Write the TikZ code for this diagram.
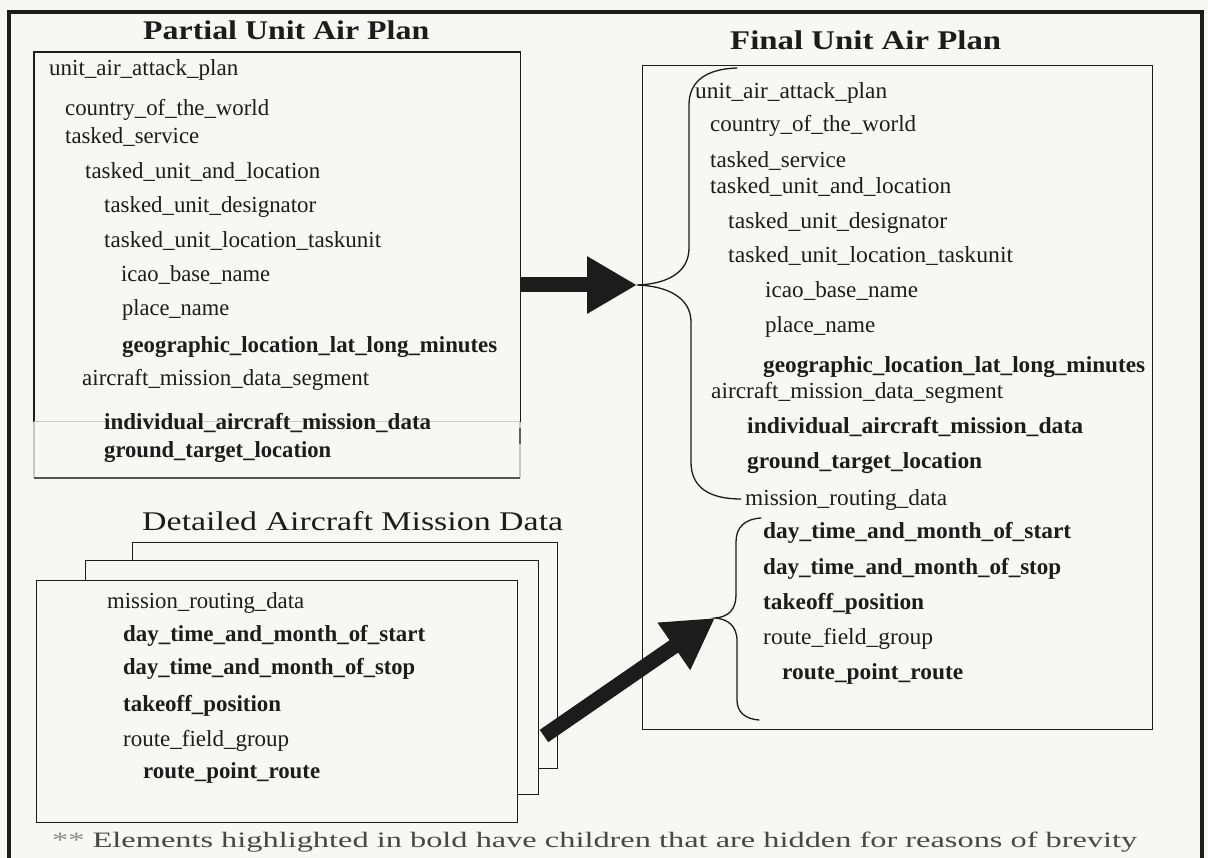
\documentclass[tikz,border=0pt]{standalone}
\usepackage{fontspec}
\setmainfont{Liberation Serif}
\usepackage{graphicx}
\usetikzlibrary{arrows.meta}
\definecolor{paper}{RGB}{247,247,243}
\definecolor{ink}{RGB}{28,28,28}
% set a text to a given width, keeping its height
\newcommand\fitw[2]{\resizebox{#1pt}{\height}{#2}}

\begin{document}
\begin{tikzpicture}[x=1pt,y=-1pt,
  item/.style={anchor=base west, inner sep=0pt, text=ink, font=\fontsize{23}{25}\selectfont},
  bitem/.style={item, font=\fontsize{23}{25}\selectfont\bfseries},
  heading/.style={anchor=base west, inner sep=0pt, text=ink, font=\fontsize{27}{30}\selectfont\bfseries},
  subheading/.style={heading, font=\fontsize{27}{30}\selectfont},
  panel/.style={draw=ink, line width=1.4pt, fill=paper, anchor=north west, inner sep=0pt},
  bigarrow/.style={draw=ink, line width=15pt, -{Triangle[length=50pt,width=54pt]}},
  brace/.style={draw=ink, line width=1.3pt, line cap=round}]

\useasboundingbox[fill=paper] (0,0) rectangle (1208,858);

% outer frame (runs off the bottom of the page)
\draw[ink, line width=3.5pt] (9,864) -- (9,12) -- (1202,12) -- (1202,864);

% ---------- Partial Unit Air Plan ----------
\node[heading] (ttlP) at (143,40) {\fitw{286}{Partial Unit Air Plan}};
\node[anchor=north west, inner sep=0pt, minimum width=486pt, minimum height=426pt] (pbox) at (34,52) {};
\draw[ink, line width=1.4pt] (pbox.south west) ++(0,-56) |- (pbox.north east) -- ++(0,370);
\draw[gray!40, line width=1pt] (34,422) -- (520,422);
\draw[gray!45, line width=1.2pt] (34,422) -- (34,478) (520,422) -- (520,478);
\draw[ink!70, line width=1.2pt] (520,428) -- (520,444);
\draw[ink!75, line width=1.4pt] (34,478) -- (520,478);

\node[item]  (l1)  at (49,76)   {\fitw{189}{unit\_air\_attack\_plan}};
\node[item]  (l2)  at (65,116)  {\fitw{204}{country\_of\_the\_world}};
\node[item]  (l3)  at (65,144)  {\fitw{134}{tasked\_service}};
\node[item]  (l4)  at (85,179)  {\fitw{235}{tasked\_unit\_and\_location}};
\node[item]  (l5)  at (104,213) {\fitw{212}{tasked\_unit\_designator}};
\node[item]  (l6)  at (104,248) {\fitw{277}{tasked\_unit\_location\_taskunit}};
\node[item]  (l7)  at (121,282) {\fitw{149}{icao\_base\_name}};
\node[item]  (l8)  at (122,316) {\fitw{107}{place\_name}};
\node[bitem] (l9)  at (122,353) {\fitw{375}{geographic\_location\_lat\_long\_minutes}};
\node[item]  (l10) at (82,386)  {\fitw{287}{aircraft\_mission\_data\_segment}};
\node[bitem] (l11) at (104,429) {\fitw{327}{individual\_aircraft\_mission\_data}};
\node[bitem] (l12) at (104,457) {\fitw{227}{ground\_target\_location}};

% ---------- Final Unit Air Plan ----------
\node[heading] (ttlF) at (730,50) {\fitw{271}{Final Unit Air Plan}};
\node[panel, minimum width=510pt, minimum height=664pt] (fbox) at (642,65) {};

\node[item]  (r1)  at (695,99)  {\fitw{192}{unit\_air\_attack\_plan}};
\node[item]  (r2)  at (710,132) {\fitw{206}{country\_of\_the\_world}};
\node[item]  (r3)  at (710,168) {\fitw{136}{tasked\_service}};
\node[item]  (r4)  at (710,194) {\fitw{241}{tasked\_unit\_and\_location}};
\node[item]  (r5)  at (728,229) {\fitw{219}{tasked\_unit\_designator}};
\node[item]  (r6)  at (728,263) {\fitw{285}{tasked\_unit\_location\_taskunit}};
\node[item]  (r7)  at (765,298) {\fitw{153}{icao\_base\_name}};
\node[item]  (r8)  at (765,333) {\fitw{110}{place\_name}};
\node[bitem] (r9)  at (763,373) {\fitw{382}{geographic\_location\_lat\_long\_minutes}};
\node[item]  (r10) at (711,399) {\fitw{292}{aircraft\_mission\_data\_segment}};
\node[bitem] (r11) at (747,434) {\fitw{336}{individual\_aircraft\_mission\_data}};
\node[bitem] (r12) at (747,469) {\fitw{235}{ground\_target\_location}};
\node[item]  (r13) at (745,505) {\fitw{202}{mission\_routing\_data}};
\node[bitem] (r14) at (763,538) {\fitw{308}{day\_time\_and\_month\_of\_start}};
\node[bitem] (r15) at (763,574) {\fitw{298}{day\_time\_and\_month\_of\_stop}};
\node[bitem] (r16) at (763,609) {\fitw{161}{takeoff\_position}};
\node[item]  (r17) at (763,644) {\fitw{170}{route\_field\_group}};
\node[bitem] (r18) at (782,679) {\fitw{181}{route\_point\_route}};

% braces that receive the arrows
\coordinate (tipA) at (637,285);
\coordinate (tipB) at (715,618);
\draw[brace] (737,68) .. controls (705,69) and (689,82) .. (689,105) -- (689,248)
  .. controls (689,272) and (668,284) .. (tipA)
  .. controls (668,286) and (691,298) .. (691,322) -- (691,462)
  .. controls (691,488) and (710,499) .. (741,499);
\draw[brace] (761,518) .. controls (745,519) and (736,527) .. (736,542) -- (736,595)
  .. controls (736,610) and (728,617) .. (tipB)
  .. controls (728,619) and (737,626) .. (737,641) -- (737,700)
  .. controls (737,712) and (745,719) .. (759,720);

% ---------- Detailed Aircraft Mission Data ----------
\node[subheading] (ttlD) at (142,530) {\fitw{421}{Detailed Aircraft Mission Data}};
\node[panel, minimum width=425pt, minimum height=226pt] (dback) at (132,542) {};
\node[panel, minimum width=453pt, minimum height=234pt] (dmid)  at (85,560) {};
\node[panel, minimum width=481pt, minimum height=242pt] (dfront) at (36,580) {};

\node[item]  (d1) at (107,608) {\fitw{197}{mission\_routing\_data}};
\node[bitem] (d2) at (123,641) {\fitw{302}{day\_time\_and\_month\_of\_start}};
\node[bitem] (d3) at (123,674) {\fitw{292}{day\_time\_and\_month\_of\_stop}};
\node[bitem] (d4) at (123,711) {\fitw{158}{takeoff\_position}};
\node[item]  (d5) at (123,746) {\fitw{166}{route\_field\_group}};
\node[bitem] (d6) at (143,778) {\fitw{177}{route\_point\_route}};

% ---------- arrows ----------
\coordinate (tailB) at (544,736);
\draw[bigarrow] (pbox.east |- tipA) -- (tipA);
\draw[bigarrow] (tailB) -- (tipB);

% ---------- note ----------
\node[anchor=base west, inner sep=0pt, text=black!72, font=\fontsize{22}{24}\selectfont] (note) at (52,847)
  {\fitw{1085}{{\color{black!45}**} Elements highlighted in bold have children that are hidden for reasons of brevity}};
\end{tikzpicture}
\end{document}
